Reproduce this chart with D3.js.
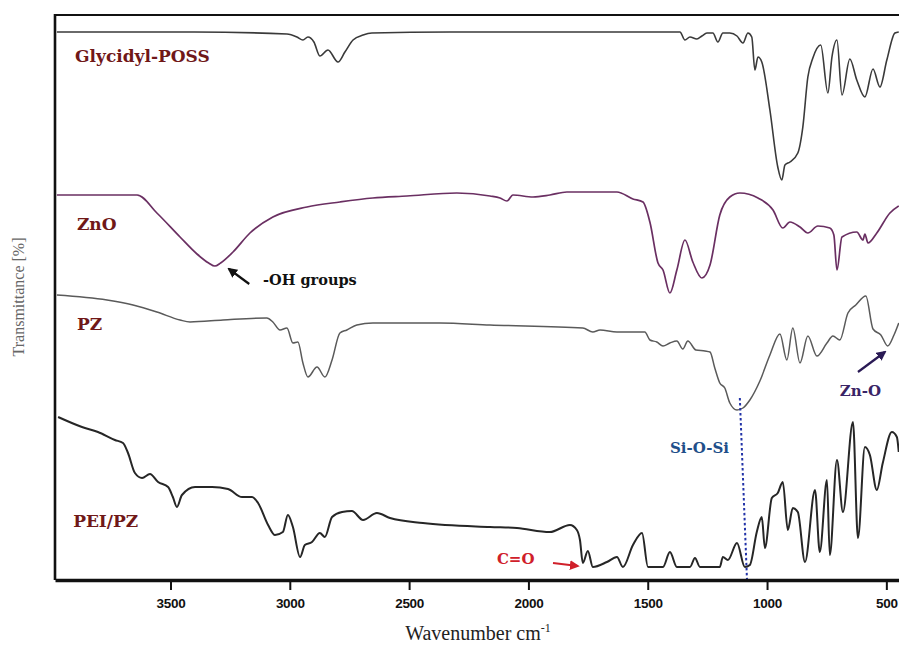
<!DOCTYPE html>
<html>
<head>
<meta charset="utf-8">
<script src="https://cdn.jsdelivr.net/npm/d3@7"></script>
<style>
  html, body { margin: 0; padding: 0; background: #fff; }
  svg { display: block; }
</style>
</head>
<body>
<svg id="chart" width="899" height="645"></svg>
<script>
// ---- data: [wavenumber (cm-1), transmittance (arbitrary units, offset stacked)] ----
const glycidylPOSS = [
  [3976,548],[3400,548],[3012,546],[2970,543],[2945,540],[2924,543],[2899,538],[2874,524],
  [2840,530],[2798,518],[2769,528],[2735,540],[2693,545],[2656,547],[2329,548],[1700,548],
  [1365,548],[1344,540],[1323,543],[1294,541],[1273,544],[1252,547],[1227,547],[1206,538],
  [1185,547],[1156,547],[1126,544],[1101,537],[1080,547],[1064,543],[1051,510],[1038,523],
  [1022,518],[988,470],[955,413],[938,400],[925,415],[904,418],[871,427],[850,453],
  [829,503],[808,522],[775,535],[745,487],[728,523],[707,540],[686,485],[653,521],
  [624,500],[590,483],[556,511],[527,493],[498,520],[464,547],[448,548]
];
const znO = [
  [3976,385],[3640,385],[3557,367],[3460,343],[3389,326],[3340,317],[3314,314],[3290,317],[3238,328],
  [3167,347],[3071,363],[2928,373],[2790,378],[2652,382],[2509,384],[2300,387],[2161,384],
  [2119,382],[2090,379],[2065,385],[1981,383],[1910,385],[1839,388],[1629,388],[1562,381],
  [1520,378],[1491,358],[1457,317],[1436,310],[1407,287],[1378,310],[1344,340],[1311,318],
  [1273,302],[1239,315],[1198,365],[1156,383],[1114,387],[1038,382],[975,370],[934,352],
  [904,358],[862,353],[829,347],[787,354],[737,352],[720,345],[707,310],[686,343],
  [624,348],[598,340],[590,346],[577,337],[540,347],[485,367],[448,374]
];
const pz = [
  [3976,285],[3766,280],[3657,275],[3557,268],[3460,260],[3418,258],[3280,260],[3096,262],
  [3071,258],[3041,250],[3012,252],[2987,237],[2966,238],[2945,217],[2924,203],[2886,213],
  [2853,203],[2823,220],[2790,247],[2761,250],[2719,255],[2652,257],[2371,257],[2161,255],
  [1772,252],[1730,248],[1700,250],[1629,248],[1512,248],[1491,240],[1462,238],[1436,234],
  [1407,237],[1378,239],[1353,231],[1332,239],[1298,230],[1260,229],[1239,228],[1219,212],
  [1198,197],[1177,192],[1156,177],[1126,170],[1101,172],[1072,180],[1030,199],[988,225],
  [946,246],[917,220],[892,252],[862,217],[829,244],[791,224],[749,237],[724,244],
  [695,240],[661,267],[628,275],[586,284],[556,251],[523,245],[494,234],[468,245],[448,257]
];
const peiPZ = [
  [3971,163],[3871,153],[3804,148],[3733,140],[3699,137],[3678,127],[3649,107],[3619,102],
  [3586,106],[3552,98],[3510,93],[3490,83],[3473,73],[3452,85],[3397,93],[3326,93],
  [3259,91],[3200,83],[3158,83],[3133,77],[3091,55],[3062,45],[3029,48],[3008,65],
  [2987,53],[2957,23],[2937,35],[2907,38],[2874,47],[2853,43],[2823,63],[2781,68],
  [2740,69],[2693,60],[2635,67],[2580,62],[2442,57],[2161,53],[2048,52],[1910,48],
  [1826,55],[1797,50],[1784,40],[1772,17],[1751,29],[1730,13],[1671,18],[1629,23],
  [1604,13],[1562,35],[1524,47],[1499,13],[1436,13],[1407,28],[1378,13],[1323,13],
  [1302,22],[1281,13],[1198,13],[1185,23],[1164,20],[1126,37],[1093,13],[1072,15],
  [1043,48],[1022,63],[1009,32],[980,82],[955,87],[934,98],[913,50],[892,72],
  [871,68],[841,18],[799,90],[779,28],[749,100],[737,25],[707,120],[682,68],
  [640,158],[619,42],[590,133],[569,125],[540,90],[515,117],[477,148],[456,143],[448,128]
];
const seriesNames = ["Glycidyl-POSS", "ZnO", "PZ", "PEI/PZ"];
// label anchor [wavenumber, value] for each series name
const seriesLabelPos = [[3900,518],[3892,350],[3892,250],[3908,53]];
const xTicks = [3500, 3000, 2500, 2000, 1500, 1000, 500];
const xDomain = [3984, 447];
const yDomain = [0, 565];
// annotations
const annotTexts = ["-OH groups", "C=O", "Si-O-Si", "Zn-O"];
const annotPos = [[3112,295],[2132,16],[1407,127],[695,184]];
const annotArrows = [[[3170,296],[3255,311]], [[1897,17],[1793,14]], null, [[619,208],[506,228]]];
const siLine = [[1114,182],[1084,0]];

// ---- layout ----
const W = 899, H = 645;
const m = {left: 55, right: 0, top: 15, bottom: 65};
const svg = d3.select("#chart");
const x = d3.scaleLinear().domain(xDomain).range([m.left, W - m.right]);
const y = d3.scaleLinear().domain(yDomain).range([H - m.bottom, m.top]);

svg.append("defs").append("clipPath").attr("id","clip")
  .append("rect").attr("x", m.left + 1).attr("y", m.top).attr("width", W - m.left).attr("height", H - m.bottom - m.top);

const defs = svg.select("defs");
function marker(id, color) {
  defs.append("marker").attr("id", id).attr("viewBox","0 0 10 10").attr("refX",8).attr("refY",5)
    .attr("markerWidth",4.5).attr("markerHeight",4.5).attr("orient","auto")
    .append("path").attr("d","M0,0 L10,5 L0,10 z").attr("fill", color);
}
marker("arrBlack", "#111");
marker("arrRed", "#d0202a");
marker("arrPurple", "#2a1a55");

const line = d3.line().x(d => x(d[0])).y(d => y(d[1])).curve(d3.curveMonotoneX);
const seriesData = [glycidylPOSS, znO, pz, peiPZ];
const seriesColors = ["#3a3a3a", "#6a2f62", "#5a5a5a", "#262626"];
const seriesWidths = [1.6, 1.7, 1.5, 2.0];

const g = svg.append("g").attr("clip-path","url(#clip)");
seriesData.forEach((s, i) => {
  g.append("path").datum(s).attr("d", line).attr("fill","none")
    .attr("stroke", seriesColors[i]).attr("stroke-width", seriesWidths[i])
    .attr("stroke-linejoin","round");
});

// Si-O-Si dotted line
svg.append("line")
  .attr("x1", x(siLine[0][0])).attr("y1", y(siLine[0][1]))
  .attr("x2", x(siLine[1][0])).attr("y2", y(siLine[1][1]))
  .attr("stroke","#2233a8").attr("stroke-width",2).attr("stroke-dasharray","2.5,2.5");

// frame: top and left
svg.append("line").attr("x1", m.left).attr("x2", W).attr("y1", m.top).attr("y2", m.top)
  .attr("stroke","#111").attr("stroke-width",2.2);
svg.append("line").attr("x1", m.left).attr("x2", m.left).attr("y1", m.top - 1).attr("y2", H - m.bottom)
  .attr("stroke","#111").attr("stroke-width",2.6);

// x axis
const xAxis = d3.axisBottom(x).tickValues(xTicks).tickSize(10).tickSizeOuter(0).tickPadding(8).tickFormat(d3.format("d"));
const ax = svg.append("g").attr("transform", `translate(0,${H - m.bottom})`).call(xAxis);
ax.select(".domain").attr("stroke","#111").attr("stroke-width",3.5);
ax.selectAll(".tick line").attr("stroke","#111").attr("stroke-width",2);
ax.selectAll(".tick text").attr("fill","#111")
  .style("font-family","'Liberation Sans Narrow','Arial Narrow','Liberation Sans',sans-serif")
  .style("font-weight","bold").style("font-size","13.5px").style("letter-spacing","-0.3px");

// axis titles
const xt = svg.append("text").attr("x", 478).attr("y", 640).attr("text-anchor","middle")
  .style("font-family","'Liberation Serif','Times New Roman',serif").style("font-size","20px").attr("fill","#222");
xt.append("tspan").text("Wavenumber cm");
xt.append("tspan").text("-1").attr("dy", -8).style("font-size","12px");

svg.append("text").attr("transform","translate(24,297) rotate(-90)").attr("text-anchor","middle")
  .style("font-family","'Liberation Serif','Times New Roman',serif").style("font-size","16px")
  .attr("fill","#666").text("Transmittance [%]");

// series labels
seriesNames.forEach((n, i) => {
  svg.append("text").attr("x", x(seriesLabelPos[i][0])).attr("y", y(seriesLabelPos[i][1]))
    .style("font-family","'DejaVu Serif',serif").style("font-weight","bold").style("font-size","17px")
    .attr("fill","#701818").text(n);
});

// annotations
const annotColors = ["#111", "#d0202a", "#1f4f8a", "#3a2466"];
const annotSizes = ["14.5px", "15px", "15px", "15px"];
const markers = ["arrBlack", "arrRed", null, "arrPurple"];
annotTexts.forEach((t, i) => {
  svg.append("text").attr("x", x(annotPos[i][0])).attr("y", y(annotPos[i][1]))
    .style("font-family","'DejaVu Serif',serif").style("font-weight","bold").style("font-size", annotSizes[i])
    .attr("fill", annotColors[i]).text(t);
  const a = annotArrows[i];
  if (a) {
    svg.append("line").attr("x1", x(a[0][0])).attr("y1", y(a[0][1])).attr("x2", x(a[1][0])).attr("y2", y(a[1][1]))
      .attr("stroke", i === 1 ? "#d0202a" : (i === 0 ? "#111" : "#2a1a55")).attr("stroke-width", 2.2)
      .attr("marker-end", `url(#${markers[i]})`);
  }
});
</script>
</body>
</html>
